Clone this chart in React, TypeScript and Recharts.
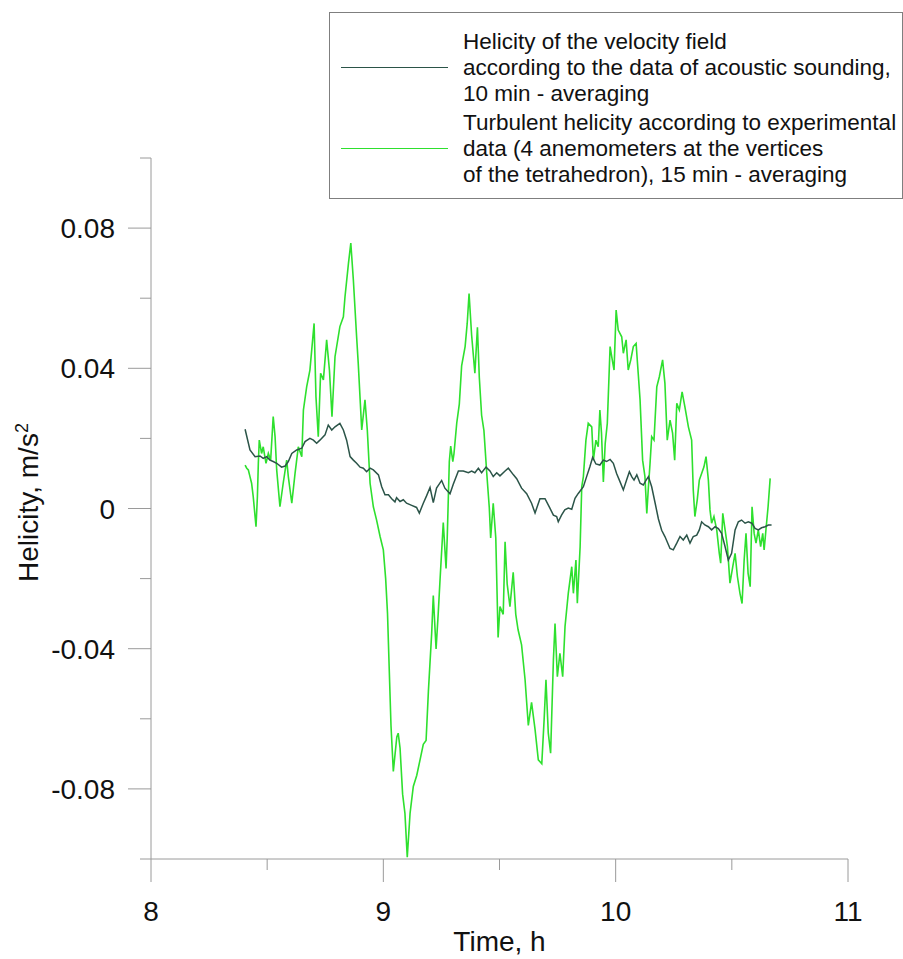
import { LineChart, Line, XAxis, YAxis, Legend } from "recharts";

const FONT = "'Liberation Sans', Arial, sans-serif";
const AXIS = "#9a9a9a";
const DARK = "#2b5448";
const GREEN = "#2ee02e";

const X_TICKS = [8, 8.5, 9, 9.5, 10, 10.5, 11];
const Y_TICKS = [-0.1, -0.08, -0.06, -0.04, -0.02, 0, 0.02, 0.04, 0.06, 0.08, 0.1];

const LEGEND_ACOUSTIC = [
  "Helicity of the velocity field",
  "according to the data of acoustic sounding,",
  "10 min - averaging",
];
const LEGEND_TURB = [
  "Turbulent helicity according to experimental",
  "data (4 anemometers at the vertices",
  "of the tetrahedron), 15 min - averaging",
];

// acoustic sounding, 10 min averaging (time in h, helicity in m/s2)
const ACOUSTIC_T = [
  8.405, 8.426, 8.448, 8.469, 8.483, 8.498, 8.512, 8.526, 8.541, 8.562, 8.577, 8.591,
  8.606, 8.627, 8.649, 8.663, 8.684, 8.699, 8.713, 8.727, 8.749, 8.763, 8.778, 8.792,
  8.813, 8.828, 8.842, 8.857, 8.871, 8.885, 8.9, 8.914, 8.928, 8.943, 8.957, 8.979,
  8.993, 9.007, 9.022, 9.036, 9.05, 9.057, 9.072, 9.086, 9.1, 9.122, 9.143, 9.155,
  9.172, 9.186, 9.201, 9.215, 9.229, 9.251, 9.265, 9.287, 9.301, 9.323, 9.344, 9.366,
  9.38, 9.394, 9.409, 9.423, 9.442, 9.459, 9.473, 9.488, 9.502, 9.524, 9.538, 9.56,
  9.574, 9.595, 9.617, 9.638, 9.653, 9.674, 9.696, 9.717, 9.732, 9.746, 9.753, 9.767,
  9.781, 9.796, 9.811, 9.825, 9.839, 9.861, 9.875, 9.889, 9.901, 9.915, 9.932, 9.947,
  9.961, 9.976, 9.99, 10.004, 10.019, 10.033, 10.047, 10.059, 10.069, 10.079, 10.091,
  10.105, 10.119, 10.131, 10.141, 10.155, 10.17, 10.184, 10.198, 10.212, 10.234,
  10.248, 10.263, 10.277, 10.291, 10.306, 10.32, 10.334, 10.349, 10.36, 10.37, 10.384,
  10.399, 10.413, 10.428, 10.442, 10.456, 10.471, 10.485, 10.499, 10.514, 10.528,
  10.542, 10.557, 10.571, 10.586, 10.6, 10.614, 10.628, 10.643, 10.657, 10.671,
];
const ACOUSTIC_V = [
  0.0226, 0.0167, 0.0148, 0.015, 0.0143, 0.0148, 0.0138, 0.0134, 0.0129, 0.0118, 0.0121, 0.0134,
  0.0157, 0.0167, 0.0172, 0.0191, 0.02, 0.0195, 0.0186, 0.0195, 0.021, 0.0238, 0.0224, 0.0233,
  0.0243, 0.0224, 0.0195, 0.0148, 0.0138, 0.0129, 0.0118, 0.0115, 0.0105, 0.0115, 0.011, 0.0096,
  0.0062, 0.0039, 0.0039, 0.0028, 0.0019, 0.0031, 0.002, 0.0025, 0.0015, 0.0009, 0.0003, -0.0013,
  0.0015, 0.0036, 0.006, 0.0017, 0.0058, 0.008, 0.0058, 0.0042, 0.0069, 0.0107, 0.0107, 0.0102,
  0.0107, 0.0102, 0.0115, 0.0102, 0.0118, 0.0107, 0.0091, 0.0102, 0.0093, 0.0107, 0.0115, 0.0096,
  0.0085, 0.0058, 0.0042, 0.0015, -0.0013, 0.0028, 0.0028, 0.0001, -0.0019, -0.0023, -0.0038, -0.0019,
  -0.0004, 0.0001, -0.0002, 0.0029, 0.0043, 0.0062, 0.0091, 0.0119, 0.0146, 0.0127, 0.0124, 0.0138,
  0.0134, 0.014, 0.0129, 0.01, 0.0076, 0.0053, 0.0081, 0.0105, 0.0091, 0.0081, 0.0096,
  0.0072, 0.0067, 0.0081, 0.0091, 0.0062, 0.0015, -0.003, -0.0062, -0.008, -0.0114,
  -0.0118, -0.0099, -0.008, -0.009, -0.0076, -0.0099, -0.008, -0.0076, -0.0061, -0.0038, -0.0047,
  -0.0052, -0.0061, -0.0052, -0.0057, -0.0071, -0.0109, -0.0147, -0.0128, -0.0061, -0.0038,
  -0.0033, -0.0042, -0.0038, -0.0042, -0.0057, -0.0061, -0.0055, -0.0052, -0.0047, -0.0047,
];

// tetrahedron anemometers, 15 min averaging
const TURB_T = [
  8.405, 8.412, 8.419, 8.426, 8.433, 8.44, 8.452, 8.458, 8.462, 8.466, 8.476, 8.483,
  8.495, 8.505, 8.515, 8.526, 8.534, 8.541, 8.555, 8.569, 8.584, 8.591, 8.606, 8.62,
  8.634, 8.649, 8.656, 8.67, 8.684, 8.702, 8.71, 8.72, 8.73, 8.742, 8.756, 8.768,
  8.779, 8.792, 8.813, 8.828, 8.835, 8.85, 8.86, 8.871, 8.885, 8.892, 8.907, 8.921,
  8.931, 8.943, 8.957, 8.971, 8.986, 9.0, 9.01, 9.018, 9.025, 9.033, 9.043, 9.058,
  9.064, 9.072, 9.083, 9.093, 9.103, 9.115, 9.129, 9.144, 9.158, 9.172, 9.184, 9.194,
  9.208, 9.215, 9.227, 9.236, 9.244, 9.258, 9.27, 9.275, 9.284, 9.29, 9.299, 9.304,
  9.316, 9.327, 9.337, 9.352, 9.361, 9.369, 9.38, 9.394, 9.405, 9.413, 9.423, 9.433,
  9.445, 9.456, 9.462, 9.473, 9.484, 9.494, 9.502, 9.516, 9.524, 9.533, 9.545, 9.559,
  9.57, 9.58, 9.595, 9.61, 9.624, 9.638, 9.653, 9.667, 9.682, 9.692, 9.7, 9.71,
  9.72, 9.732, 9.739, 9.749, 9.76, 9.772, 9.782, 9.796, 9.811, 9.818, 9.829, 9.835,
  9.847, 9.854, 9.861, 9.872, 9.882, 9.897, 9.904, 9.915, 9.925, 9.932, 9.939, 9.947,
  9.955, 9.964, 9.976, 9.983, 9.993, 10.002, 10.011, 10.026, 10.033, 10.045, 10.054, 10.065,
  10.076, 10.088, 10.097, 10.105, 10.116, 10.126, 10.134, 10.141, 10.148, 10.155, 10.165, 10.177,
  10.188, 10.202, 10.212, 10.222, 10.234, 10.245, 10.254, 10.263, 10.274, 10.286, 10.298, 10.313,
  10.327, 10.334, 10.341, 10.351, 10.36, 10.37, 10.38, 10.389, 10.399, 10.406, 10.413, 10.423,
  10.435, 10.446, 10.452, 10.461, 10.471, 10.481, 10.492, 10.504, 10.514, 10.524, 10.535, 10.544,
  10.553, 10.561, 10.57, 10.579, 10.587, 10.596, 10.604, 10.614, 10.624, 10.633, 10.639, 10.648,
  10.656, 10.665,
];
const TURB_V = [
  0.0124, 0.0115, 0.011, 0.0091, 0.0072, 0.0034, -0.0052, 0.0034, 0.0129, 0.0195, 0.0157, 0.0176,
  0.0129, 0.0157, 0.0138, 0.0262, 0.0205, 0.011, 0.0005, 0.0072, 0.0138, 0.0091, 0.0015, 0.01,
  0.0176, 0.0148, 0.0281, 0.0347, 0.0395, 0.0528, 0.0319, 0.0205, 0.0386, 0.0367, 0.0481, 0.0395,
  0.0262, 0.0433, 0.0519, 0.0547, 0.0604, 0.07, 0.0757, 0.0652, 0.049, 0.0414, 0.0224, 0.031,
  0.0224, 0.0072, 0.0005, -0.0033, -0.008, -0.0118, -0.02, -0.03, -0.045, -0.062, -0.075, -0.0652,
  -0.0641, -0.0684, -0.0815, -0.087, -0.0995, -0.087, -0.0793, -0.0761, -0.0717, -0.0673, -0.0662, -0.0521,
  -0.0357, -0.0248, -0.0401, -0.0302, -0.0204, -0.004, -0.0171, -0.0084, 0.0134, 0.0178, 0.0134, 0.0156,
  0.0244, 0.0298, 0.0407, 0.0462, 0.0528, 0.0613, 0.0495, 0.0386, 0.0517, 0.0375, 0.0266, 0.0222,
  0.0102, 0.0003, -0.0084, 0.0015, -0.0084, -0.0368, -0.028, -0.0302, -0.0095, -0.0215, -0.028, -0.0182,
  -0.0302, -0.0346, -0.0389, -0.0488, -0.0619, -0.0553, -0.063, -0.0717, -0.0728, -0.0603, -0.0489, -0.0641,
  -0.0698, -0.0432, -0.0328, -0.048, -0.0413, -0.048, -0.0337, -0.0242, -0.0166, -0.0242, -0.0147, -0.027,
  -0.0109, 0.0062, 0.0091, 0.0195, 0.0243, 0.0233, 0.0138, 0.0195, 0.0176, 0.0281, 0.0215, 0.0076,
  0.0186, 0.0243, 0.0462, 0.0433, 0.0395, 0.0566, 0.0509, 0.049, 0.0443, 0.0481, 0.0395, 0.0424,
  0.0462, 0.0471, 0.0386, 0.031, 0.0138, 0.0091, -0.0014, 0.0062, 0.0129, 0.0205, 0.0195, 0.0347,
  0.0376, 0.0424, 0.0357, 0.0195, 0.0252, 0.0215, 0.0138, 0.03, 0.0281, 0.0333, 0.029, 0.0233,
  0.0195, 0.0053, -0.0023, 0.0024, 0.0081, 0.01, 0.0119, 0.0148, 0.0081, -0.0004, -0.0042, -0.0023,
  -0.0061, -0.0128, -0.0156, -0.0014, -0.0061, -0.0109, -0.0213, -0.0166, -0.0128, -0.0194, -0.0242, -0.0271,
  -0.0147, -0.0071, -0.0185, -0.0223, 0.0005, -0.0071, -0.0099, -0.0061, -0.0109, -0.0071, -0.0118, -0.0052,
  0.0005, 0.0086,
];

const acoustic = ACOUSTIC_T.map((t, i) => ({ t, v: ACOUSTIC_V[i] }));
const turbulent = TURB_T.map((t, i) => ({ t, v: TURB_V[i] }));

function XTick({ x, y, payload }: any) {
  const major = Number.isInteger(payload.value);
  return (
    <g>
      <line x1={x} x2={x} y1={y} y2={y + (major ? 23 : 11)} stroke={AXIS} />
      {major && (
        <text x={x} y={y + 62} textAnchor="middle" fontSize={28} fontFamily={FONT} fill="#111">
          {payload.value}
        </text>
      )}
    </g>
  );
}

function YTick({ x, y, payload }: any) {
  const major = Math.round(payload.value * 100) % 4 === 0;
  return (
    <g>
      <line x1={x - (major ? 23 : 11)} x2={x} y1={y} y2={y} stroke={AXIS} />
      {major && (
        <text x={x - 36} y={y} dy="0.36em" textAnchor="end" fontSize={28} fontFamily={FONT} fill="#111">
          {String(payload.value)}
        </text>
      )}
    </g>
  );
}

function XTitle({ viewBox }: any) {
  return (
    <text x={viewBox.x + viewBox.width / 2} y={viewBox.y + 92} textAnchor="middle" fontSize={28} fontFamily={FONT} fill="#111">
      Time, h
    </text>
  );
}

function YTitle({ viewBox }: any) {
  const cx = viewBox.x + 38;
  const cy = viewBox.y + viewBox.height / 2 - 6;
  return (
    <text transform={`rotate(-90 ${cx} ${cy})`} x={cx} y={cy} textAnchor="middle" fontSize={28} fontFamily={FONT} fill="#111">
      Helicity, m/s
      <tspan dy={-10} fontSize={18}>2</tspan>
    </text>
  );
}

function LegendBox() {
  const entry = (lines: string[], color: string, top: number) => (
    <>
      <div style={{ position: "absolute", left: 11, top: top + 38, width: 107, height: 0, borderTop: `1.5px solid ${color}` }} />
      {lines.map((s, i) => (
        <div key={s} style={{ position: "absolute", left: 133, top: top + i * 26, lineHeight: "26px", whiteSpace: "nowrap" }}>
          {s}
        </div>
      ))}
    </>
  );
  return (
    <div
      style={{
        position: "relative",
        boxSizing: "border-box",
        width: 574,
        height: 187,
        border: "1px solid #7f7f7f",
        background: "#fff",
        fontFamily: FONT,
        fontSize: 22.5,
        color: "#111",
      }}
    >
      {entry(LEGEND_ACOUSTIC, DARK, 16)}
      {entry(LEGEND_TURB, GREEN, 97)}
    </div>
  );
}

export default function App() {
  return (
    <div style={{ position: "absolute", left: 0, top: 0, background: "#fff" }}>
      <LineChart width={903} height={959} margin={{ top: 158, right: 55, bottom: 0, left: 0 }}>
        <XAxis
          type="number"
          dataKey="t"
          domain={[8, 11]}
          ticks={X_TICKS}
          interval={0}
          height={100}
          tickLine={false}
          tickSize={0}
          tickMargin={0}
          tick={<XTick />}
          axisLine={{ stroke: AXIS }}
          label={{ content: <XTitle /> }}
          allowDataOverflow
        />
        <YAxis
          type="number"
          domain={[-0.1, 0.1]}
          ticks={Y_TICKS}
          interval={0}
          width={151}
          tickLine={false}
          tickSize={0}
          tickMargin={0}
          tick={<YTick />}
          axisLine={{ stroke: AXIS }}
          label={{ content: <YTitle /> }}
          allowDataOverflow
        />
        <Legend
          layout="horizontal"
          verticalAlign="middle"
          align="center"
          content={<LegendBox />}
          wrapperStyle={{ left: 329, top: 12, width: 574, height: 187 }}
        />
        <Line
          data={turbulent}
          dataKey="v"
          name="turbulent"
          type="linear"
          stroke={GREEN}
          strokeWidth={1.6}
          dot={false}
          isAnimationActive={false}
        />
        <Line
          data={acoustic}
          dataKey="v"
          name="acoustic"
          type="linear"
          stroke={DARK}
          strokeWidth={1.5}
          dot={false}
          isAnimationActive={false}
        />
      </LineChart>
    </div>
  );
}
